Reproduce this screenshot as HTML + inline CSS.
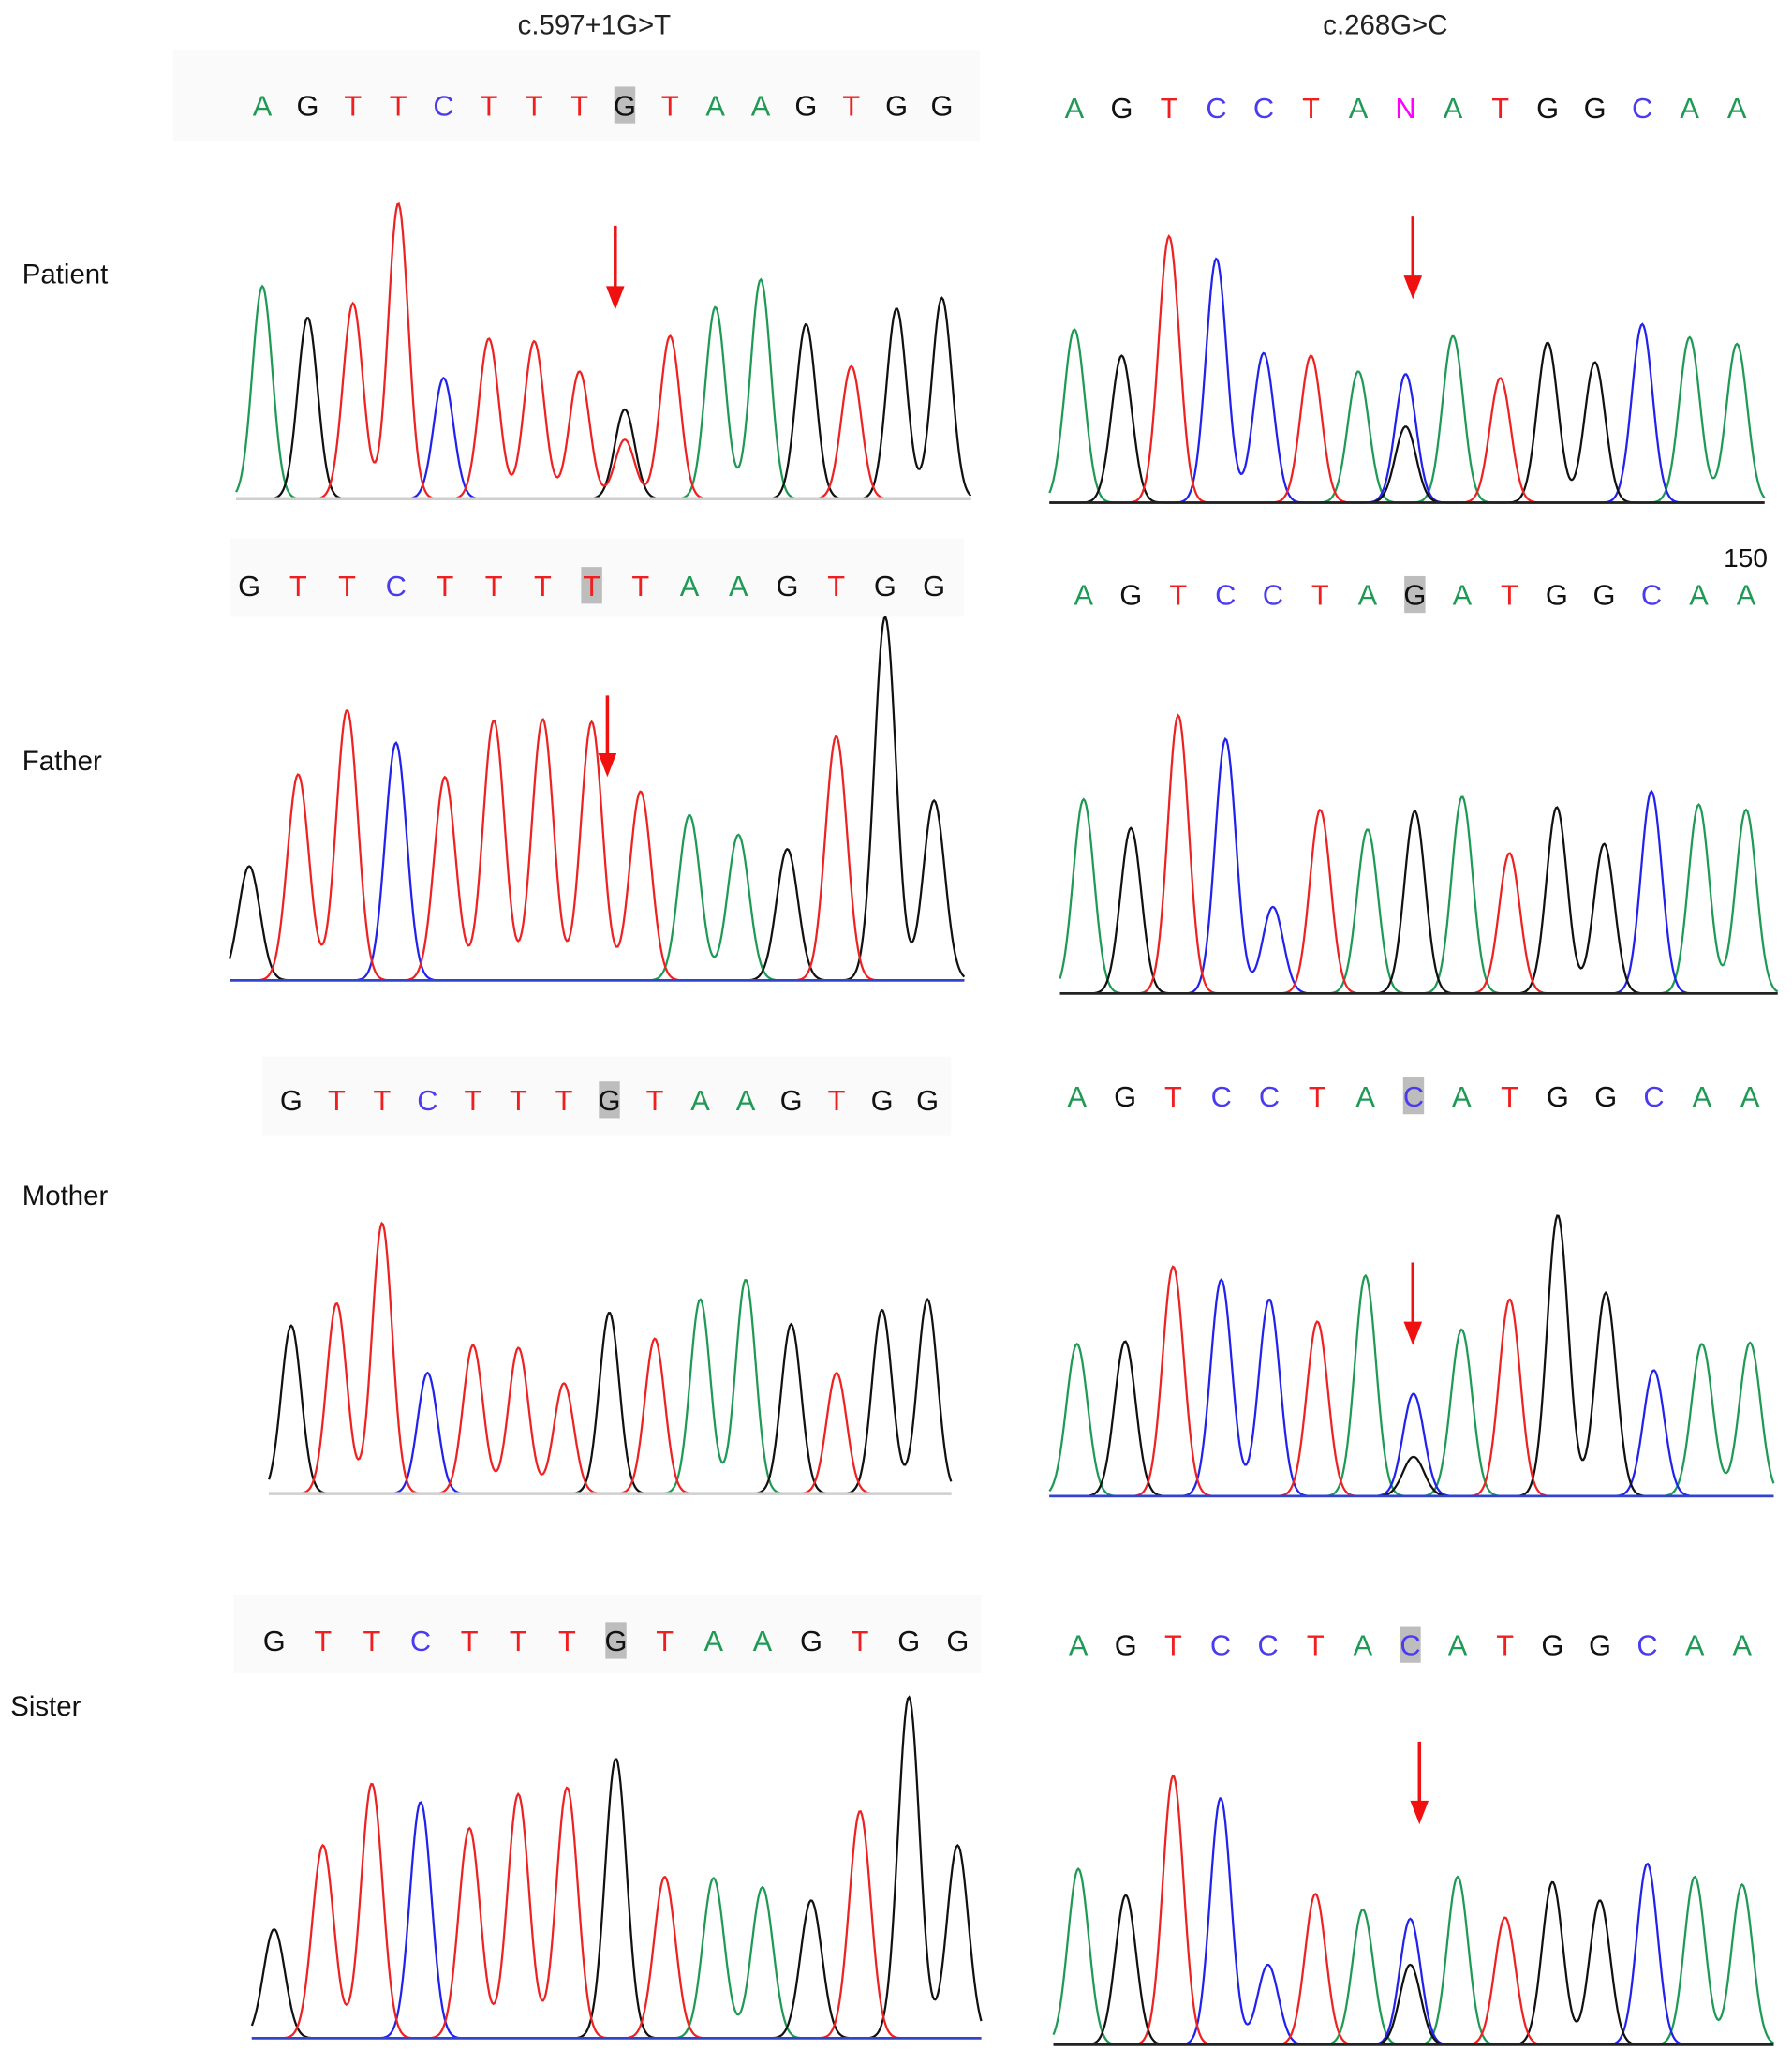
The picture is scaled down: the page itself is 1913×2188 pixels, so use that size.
<!DOCTYPE html>
<html><head><meta charset="utf-8"><style>
html,body{margin:0;padding:0;background:#fff;}
svg{display:block;}
</style></head>
<body>
<svg id="fig" width="1913" height="2188" viewBox="0 0 1366 1562" preserveAspectRatio="none" xmlns="http://www.w3.org/2000/svg" font-family="'Liberation Sans', sans-serif">
<rect width="1366" height="1562" fill="#fff"/>
<text x="453" y="26" font-size="21" text-anchor="middle" fill="#222">c.597+1G&gt;T</text>
<text x="1056" y="26" font-size="21" text-anchor="middle" fill="#222">c.268G&gt;C</text>
<text x="17" y="216" font-size="21" fill="#111">Patient</text>
<text x="17" y="587" font-size="21" fill="#111">Father</text>
<text x="17" y="918" font-size="21" fill="#111">Mother</text>
<text x="8" y="1307" font-size="21" fill="#111">Sister</text>
<text x="1314" y="432" font-size="20" fill="#111">150</text>
<g id="panels"></g>
</svg>
<script>
// ---- data: base calls and peak heights (signal units) ----
const seqPatientL = "AGTTCTTTGTAAGTGG";
const ampPatientL = [162,138,149,225,92,122,120,97,68,124,146,167,133,101,145,153];
const secPatientL = [[8,"T",45]];
const seqPatientR = "AGTCCTANATGGCAA";
const ampPatientR = [132,112,203,186,114,112,100,98,127,95,122,107,136,126,121];
const secPatientR = [[7,"G",58]];
const seqFatherL = "GTTCTTTTTAAGTGG";
const ampFatherL = [87,157,206,181,155,198,199,107,144,126,111,100,186,277,137];
const secFatherL = [[7,"T",90]];
const seqFatherR = "AGTCCTAGATGGCAA";
const ampFatherR = [148,126,212,194,66,140,125,139,150,107,142,114,154,144,140];
const secFatherR = [];
const seqMotherL = "GTTCTTTGTAAGTGG";
const ampMotherL = [128,145,206,92,113,111,84,138,118,148,163,129,92,140,148];
const secMotherL = [];
const seqMotherR = "AGTCCTACATGGCAA";
const ampMotherR = [116,118,175,165,150,133,168,78,127,150,214,155,96,116,117];
const secMotherR = [[7,"G",30]];
const seqSisterL = "GTTCTTTGTAAGTGG";
const ampSisterL = [83,147,194,180,160,186,191,213,123,122,115,105,173,260,147];
const secSisterL = [];
const seqSisterR = "AGTCCTACATGGCAA";
const ampSisterR = [134,114,205,188,61,115,103,96,128,97,124,110,138,128,122];
const secSisterR = [[7,"G",61]];
const baseLetters = ["A","C","G","T"];

// ---- layout (not data) ----
const layouts = [
 {seq:seqPatientL,amp:ampPatientL,sec:secPatientL,x0:200,x1:718,base:380,ly:88,r0:180,r1:740,hl:8,arrow:[469,172,236],line:"#cfcfcf",bg:[132,38,615,70],name:"patient-left"},
 {seq:seqPatientR,amp:ampPatientR,sec:secPatientR,x0:819,x1:1324,base:383,ly:90,r0:800,r1:1345,hl:-1,arrow:[1077,165,228],line:"#222",bg:null,name:"patient-right"},
 {seq:seqFatherL,amp:ampFatherL,sec:secFatherL,x0:190,x1:712,base:747,ly:454,r0:175,r1:735,hl:7,arrow:[463,530,592],line:"#3344cc",bg:[175,410,560,60],name:"father-left"},
 {seq:seqFatherR,amp:ampFatherR,sec:secFatherR,x0:826,x1:1331,base:757,ly:461,r0:808,r1:1355,hl:7,arrow:null,line:"#222",bg:null,name:"father-right"},
 {seq:seqMotherL,amp:ampMotherL,sec:secMotherL,x0:222,x1:707,base:1138,ly:846,r0:205,r1:725,hl:7,arrow:null,line:"#cfcfcf",bg:[200,805,525,60],name:"mother-left"},
 {seq:seqMotherR,amp:ampMotherR,sec:secMotherR,x0:821,x1:1334,base:1140,ly:843,r0:800,r1:1352,hl:7,arrow:[1077,962,1025],line:"#3344cc",bg:null,name:"mother-right"},
 {seq:seqSisterL,amp:ampSisterL,sec:secSisterL,x0:209,x1:730,base:1553,ly:1258,r0:192,r1:748,hl:7,arrow:null,line:"#3344cc",bg:[178,1215,570,60],name:"sister-left"},
 {seq:seqSisterR,amp:ampSisterR,sec:secSisterR,x0:822,x1:1328,base:1558,ly:1261,r0:803,r1:1352,hl:7,arrow:[1082,1327,1390],line:"#222",bg:null,name:"sister-right"}
];
const colors = {A:"#1f9a55",C:"#4a3af0",G:"#111111",T:"#f01e1e",N:"#ff00ff"};
const traceColors = {A:"#1f9a55",C:"#2222ee",G:"#111111",T:"#ee2222"};
const NS = "http://www.w3.org/2000/svg";
const root = document.getElementById("panels");

function mk(tag, attrs){const e=document.createElementNS(NS,tag);for(const k in attrs)e.setAttribute(k,attrs[k]);return e;}

layouts.forEach(L=>{
  const g = mk("g",{});
  
  
  root.appendChild(g);
  const n = L.seq.length;
  const xScale = i => L.x0 + (L.x1 - L.x0) * i / (n - 1);
  const yScale = v => L.base - v;
  const sp = (L.x1 - L.x0)/(n-1);
  const sig = sp*0.22;
  if(L.bg){
    const r = mk("rect",{x:L.bg[0],y:L.bg[1],width:L.bg[2],height:L.bg[3],fill:"#fafafa"});
    
    
    g.appendChild(r);
  }
  // traces
  baseLetters.forEach(b=>{
    const peaks=[];
    for(let i=0;i<n;i++){ if(L.seq[i]===b || (L.seq[i]==="N" && b==="C")) peaks.push([i,L.amp[i]]); }
    L.sec.forEach(s=>{ if(s[1]===b) peaks.push([s[0],s[2]]); });
    if(!peaks.length) return;
    let d="";
    for(let x=L.r0;x<=L.r1;x+=1){
      let v=0;
      peaks.forEach(p=>{const dx=x-xScale(p[0]);v+=p[1]*Math.exp(-dx*dx/(2*sig*sig));});
      d+=(d?"L":"M")+x+","+yScale(v).toFixed(1);
    }
    const path = mk("path",{d:d,fill:"none",stroke:traceColors[b],"stroke-width":1.6});
    
    
    g.appendChild(path);
  });
  // baseline on top
  const bl = mk("line",{x1:L.r0,x2:L.r1,y1:L.base,y2:L.base,stroke:L.line,"stroke-width":L.line==="#cfcfcf"?2.5:2});
  
  
  g.appendChild(bl);
  // letters
  for(let i=0;i<n;i++){
    const x = xScale(i);
    if(i===L.hl){
      const hr = mk("rect",{x:x-8,y:L.ly-22,width:16,height:28,fill:"#bdbdbd"});
      
      
      g.appendChild(hr);
    }
    const t = mk("text",{x:x,y:L.ly,"font-size":22,"text-anchor":"middle",fill:colors[L.seq[i]]});
    t.textContent = L.seq[i];
    
    
    g.appendChild(t);
  }
  if(L.arrow){
    const a=L.arrow;
    const ag = mk("g",{});
    
    
    ag.appendChild(mk("line",{x1:a[0],x2:a[0],y1:a[1],y2:a[2]-14,stroke:"#f01010","stroke-width":2.5}));
    ag.appendChild(mk("polygon",{points:`${a[0]-7},${a[2]-18} ${a[0]+7},${a[2]-18} ${a[0]},${a[2]}`,fill:"#f01010"}));
    g.appendChild(ag);
  }
});
</script>
</body></html>
